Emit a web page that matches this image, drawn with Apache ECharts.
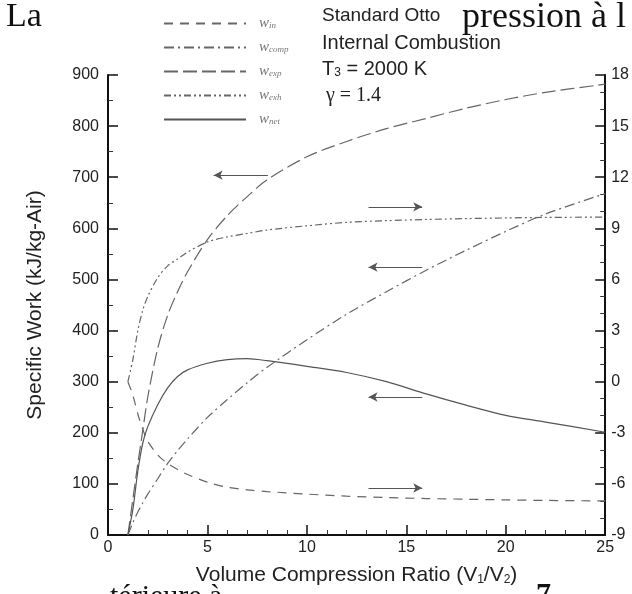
<!DOCTYPE html>
<html>
<head>
<meta charset="utf-8">
<script src="https://cdn.jsdelivr.net/npm/echarts@6/dist/echarts.min.js"></script>
<style>
html,body{margin:0;padding:0;background:#fff;}
#c{width:632px;height:594px;}
</style>
</head>
<body>
<div id="c"></div>
<script>
// Volume compression ratio samples
var ratio = [1, 1.25, 1.5, 1.75, 2, 2.5, 3, 3.5, 4, 5, 6, 7, 8, 10, 12, 14, 16, 18, 20, 22, 25];
// Left axis (kJ/kg-Air)
var wExp  = [0, 70, 140, 205, 270, 365, 430, 476, 515, 578, 625, 662, 695, 740, 770, 795, 815, 835, 852, 866, 882];
var wComp = [0, 24, 45, 63, 80, 110, 140, 165, 188, 230, 265, 298, 328, 382, 432, 476, 518, 557, 594, 628, 668];
var wNet  = [0, 50, 125, 180, 212, 255, 288, 310, 323, 336, 343, 345, 341, 330, 318, 300, 276, 254, 234, 221, 201];
// Right axis (x100 kJ/kg-Air)
var wExh  = [0, 1.3, 3.0, 4.2, 5.0, 6.1, 6.8, 7.2, 7.6, 8.2, 8.5, 8.7, 8.9, 9.15, 9.35, 9.45, 9.52, 9.57, 9.61, 9.64, 9.66];
var wIn   = [0, -0.8, -1.9, -2.8, -3.5, -4.3, -4.8, -5.15, -5.45, -5.9, -6.2, -6.35, -6.45, -6.6, -6.72, -6.8, -6.86, -6.9, -6.94, -6.97, -7.0];

var seriesNames = ['w_in', 'w_comp', 'w_exp', 'w_exh', 'w_net'];
var subs = {w_in: 'in', w_comp: 'comp', w_exp: 'exp', w_exh: 'exh', w_net: 'net'};

// Direction arrows (x from, x to, left-axis level)
var arrows = [
  [8.04, 5.31, 704],
  [13.1, 15.8, 642],
  [15.8, 13.1, 524],
  [15.8, 13.1, 270],
  [13.1, 15.8, 92]
];

function pairs(v) { return ratio.map(function (x, i) { return [x, v[i]]; }); }

var chart = echarts.init(document.getElementById('c'), null, {renderer: 'canvas'});
var sans = 'Liberation Sans, Arial, Helvetica, sans-serif';
var serif = 'Liberation Serif, Times New Roman, serif';
var curveColor = '#666';

function mkSeries(name, data, axis, dash, color) {
  return {
    name: name, type: 'line', yAxisIndex: axis, data: pairs(data),
    smooth: 0.3, symbol: 'none', showSymbol: false, silent: true,
    lineStyle: {color: color, width: 1.2, type: dash},
    itemStyle: {color: color},
    z: 3
  };
}

var netSeries = mkSeries('w_net', wNet, 0, 'solid', '#555');
netSeries.markLine = {
  silent: true,
  symbol: ['none', 'arrow'],
  symbolSize: [7, 9],
  label: {show: false},
  lineStyle: {color: '#555', width: 1, type: 'solid'},
  data: arrows.map(function (a) { return [{coord: [a[0], a[2]]}, {coord: [a[1], a[2]]}]; })
};

var option = {
  animation: false,
  backgroundColor: '#fff',
  grid: {left: 108, right: 20, top: 75, bottom: 59},
  legend: {
    orient: 'vertical', left: 158, top: 11, itemWidth: 82, itemHeight: 10, itemGap: 9,
    selectedMode: false,
    data: seriesNames,
    itemStyle: {color: 'rgba(0,0,0,0)', borderWidth: 0, opacity: 0},
    formatter: function (n) { return '{w|w}{s|' + subs[n] + '}'; },
    textStyle: {
      color: '#777',
      rich: {
        w: {fontFamily: serif, fontStyle: 'italic', fontSize: 15, lineHeight: 14, color: '#777', padding: [0, 0, 0, 8]},
        s: {fontFamily: serif, fontStyle: 'italic', fontSize: 9, lineHeight: 8, verticalAlign: 'bottom', color: '#777'}
      }
    }
  },
  xAxis: {
    type: 'value', min: 0, max: 25, interval: 5,
    name: 'Volume Compression Ratio (V{s|1}/V{s|2})',
    nameLocation: 'middle', nameGap: 30,
    nameTextStyle: {fontFamily: sans, fontSize: 21, color: '#222',
      rich: {s: {fontFamily: sans, fontSize: 12, verticalAlign: 'bottom', lineHeight: 10, color: '#222'}}},
    axisLine: {show: true, onZero: false, lineStyle: {color: '#111', width: 2}},
    axisTick: {show: true, inside: true, length: 10, lineStyle: {color: '#111', width: 1.5}},
    minorTick: {show: true, splitNumber: 5, length: 5, lineStyle: {color: '#333', width: 1}},
    axisLabel: {fontFamily: sans, fontSize: 16, color: '#222', margin: 5},
    splitLine: {show: false}
  },
  yAxis: [
    {
      type: 'value', min: 0, max: 900, interval: 100, position: 'left',
      name: 'Specific Work (kJ/kg-Air)', nameLocation: 'middle', nameGap: 62,
      nameTextStyle: {fontFamily: sans, fontSize: 21, color: '#222'},
      axisLine: {show: true, onZero: false, lineStyle: {color: '#111', width: 2}},
      axisTick: {show: true, inside: true, length: 10, lineStyle: {color: '#111', width: 1.5}},
      minorTick: {show: true, splitNumber: 2, length: 5, lineStyle: {color: '#333', width: 1}},
      axisLabel: {fontFamily: sans, fontSize: 16, color: '#222', margin: 9},
      splitLine: {show: false}
    },
    {
      type: 'value', min: -9, max: 18, interval: 3, position: 'right',
      axisLine: {show: true, onZero: false, lineStyle: {color: '#111', width: 2}},
      axisTick: {show: true, inside: true, length: 10, lineStyle: {color: '#111', width: 1.5}},
      minorTick: {show: true, splitNumber: 3, length: 5, lineStyle: {color: '#333', width: 1}},
      axisLabel: {fontFamily: sans, fontSize: 16, color: '#222', margin: 6},
      splitLine: {show: false}
    }
  ],
  series: [
    mkSeries('w_in', wIn, 1, [9, 7], curveColor),
    mkSeries('w_comp', wComp, 0, [10, 4, 2, 4], curveColor),
    mkSeries('w_exp', wExp, 0, [14, 5], curveColor),
    mkSeries('w_exh', wExh, 1, [7, 3, 2, 3, 2, 3], curveColor),
    netSeries
  ],
  graphic: [
    {type: 'text', left: 6, top: 0, style: {text: 'La', font: '34px ' + serif, fill: '#111'}},
    {type: 'text', left: 462, top: 0, style: {text: 'pression à l', font: '36px ' + serif, fill: '#111'}},
    {type: 'text', left: 322, top: 6, style: {text: 'Standard Otto', font: '19px ' + sans, fill: '#222'}},
    {type: 'text', left: 322, top: 33, style: {text: 'Internal Combustion', font: '20px ' + sans, fill: '#222'}},
    {type: 'text', left: 322, top: 59, style: {
      text: 'T{s|3} = 2000 K', font: '20px ' + sans, fill: '#222',
      rich: {s: {fontFamily: sans, fontSize: 12, verticalAlign: 'bottom', lineHeight: 11, fill: '#222'}}}},
    {type: 'text', left: 326, top: 86, style: {text: 'γ = 1.4', font: '20px ' + serif, fill: '#222'}},
    {type: 'text', left: 110, top: 582, style: {text: 'térieure à', font: '30px ' + serif, fill: '#111'}},
    {type: 'text', left: 536, top: 580, style: {text: '7', font: 'bold 30px ' + serif, fill: '#111'}}
  ]
};
chart.setOption(option);
</script>
</body>
</html>
